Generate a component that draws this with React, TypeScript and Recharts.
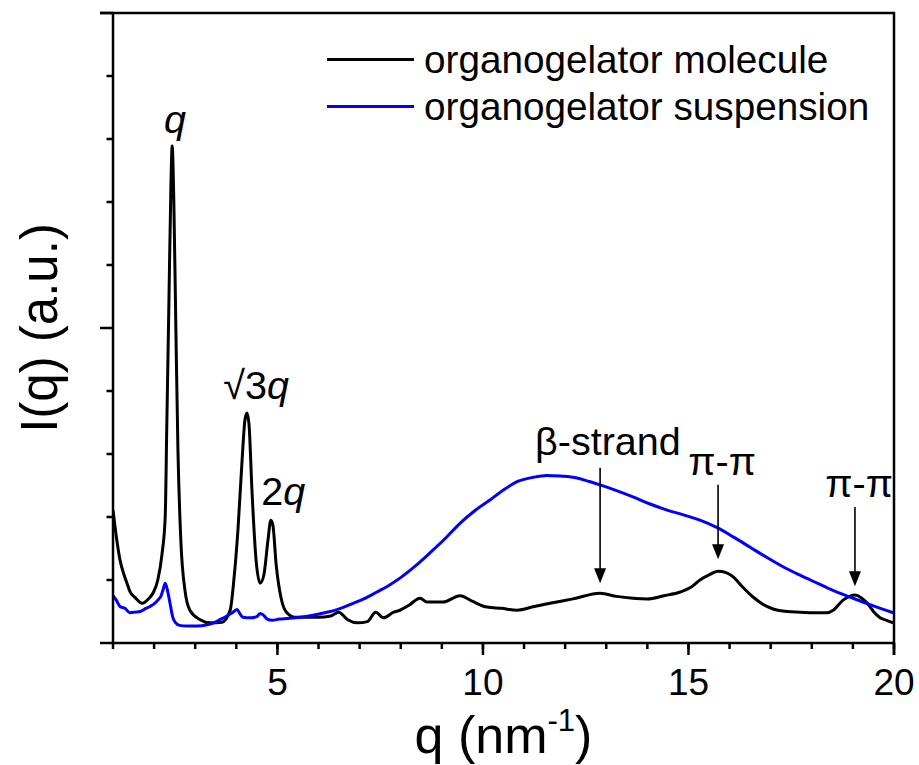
import React from 'react';
import { LineChart, Line, XAxis, YAxis, Legend, ReferenceDot, ReferenceLine, Label, Customized } from 'recharts';

// organogelator molecule (black)
const moleculeQ = [
  1.0, 1.03, 1.1, 1.17, 1.27, 1.34, 1.41, 1.54, 1.71, 1.85, 1.97, 2.09, 2.19, 2.27, 2.31, 2.36,
  2.41, 2.44, 2.48, 2.53, 2.58, 2.65, 2.75, 2.87, 3.12, 3.36, 3.65, 3.85, 3.94, 4.04, 4.14, 4.21,
  4.26, 4.31, 4.38, 4.48, 4.58, 4.67, 4.77, 4.84, 4.89, 4.97, 5.09, 5.23, 5.43, 5.98, 6.3, 6.49,
  6.71, 6.95, 7.19, 7.39, 7.58, 7.83, 7.98, 8.2, 8.47, 8.64, 9.03, 9.44, 9.75, 10.1, 10.45, 10.83,
  11.25, 11.63, 12.19, 12.85, 13.25, 13.65, 14.0, 14.4, 14.8, 15.05, 15.28, 15.5, 15.72, 15.9,
  16.09, 16.3, 16.57, 16.8, 17.06, 17.4, 17.72, 18.05, 18.37, 18.52, 18.76, 18.92, 19.05, 19.2,
  19.35, 19.5, 19.66, 19.82, 19.98,
];
const moleculeI = [
  2.11, 1.95, 1.6, 1.32, 1.08, 0.95, 0.82, 0.72, 0.63, 0.69, 0.79, 1.0, 1.4, 2.0, 3.5, 5.4,
  7.3, 7.89, 7.0, 4.97, 3.06, 1.63, 0.84, 0.52, 0.37, 0.32, 0.33, 0.52, 1.0, 1.8, 2.9, 3.54,
  3.65, 3.46, 2.43, 1.32, 0.95, 1.08, 1.63, 1.95, 1.87, 1.24, 0.71, 0.48, 0.41, 0.41, 0.43, 0.49,
  0.37, 0.32, 0.34, 0.49, 0.4, 0.49, 0.52, 0.6, 0.71, 0.65, 0.65, 0.75, 0.66, 0.57, 0.55, 0.52,
  0.58, 0.63, 0.7, 0.79, 0.74, 0.71, 0.7, 0.75, 0.81, 0.88, 1.0, 1.08, 1.14, 1.12,
  1.05, 0.9, 0.73, 0.62, 0.54, 0.5, 0.49, 0.48, 0.48, 0.52, 0.68, 0.74, 0.76, 0.72,
  0.63, 0.5, 0.4, 0.36, 0.32,
];

// organogelator suspension (blue)
const suspensionQ = [
  1.0, 1.08, 1.17, 1.29, 1.41, 1.55, 1.66, 1.8, 1.9, 2.0, 2.09, 2.17, 2.22, 2.27, 2.33, 2.39,
  2.45, 2.51, 2.62, 2.8, 3.05, 3.29, 3.45, 3.6, 3.75, 3.92, 4.02, 4.1, 4.16, 4.35, 4.5, 4.58,
  4.65, 4.75, 4.87, 5.05, 5.23, 5.55, 5.87, 6.15, 6.45, 6.84, 7.1, 7.42, 7.7, 7.98, 8.35, 8.71,
  9.1, 9.44, 9.8, 10.17, 10.5, 10.83, 11.22, 11.55, 11.88, 12.29, 12.55, 12.85, 13.25, 13.65,
  14.05, 14.48, 14.9, 15.28, 15.7, 16.1, 16.5, 16.9, 17.3, 17.7, 18.13, 18.5, 18.93, 19.45, 19.98,
];
const suspensionI = [
  0.75, 0.68, 0.58, 0.55, 0.48, 0.49, 0.5, 0.55, 0.58, 0.62, 0.68, 0.75, 0.85, 0.95, 0.82, 0.62,
  0.42, 0.33, 0.28, 0.27, 0.27, 0.29, 0.32, 0.37, 0.42, 0.49, 0.53, 0.45, 0.41, 0.4, 0.42, 0.47,
  0.45, 0.38, 0.36, 0.38, 0.39, 0.41, 0.44, 0.48, 0.53, 0.63, 0.7, 0.81, 0.91, 1.03, 1.22, 1.43,
  1.67, 1.9, 2.1, 2.27, 2.43, 2.56, 2.63, 2.66, 2.65, 2.62, 2.57, 2.51, 2.42, 2.32,
  2.21, 2.11, 2.03, 1.95, 1.83, 1.68, 1.52, 1.36, 1.21, 1.08, 0.95, 0.84, 0.73, 0.6, 0.48,
];

const xTicks = [1, 2, 3, 4, 5, 6, 7, 8, 9, 10, 11, 12, 13, 14, 15, 16, 17, 18, 19, 20];
const xLabelled = [5, 10, 15, 20];
const yTicks = [0, 1, 2, 3, 4, 5, 6, 7, 8, 9, 10];
const yMajor = [0, 5, 10];

// peak labels: [q, I, plain text, italic suffix]
const peakLabels: [number, number, string, string][] = [
  [2.51, 8.1, '', 'q'],
  [4.48, 3.88, '√3', 'q'],
  [5.14, 2.19, '2', 'q'],
  [13.04, 2.98, 'β-strand', ''],
  [15.82, 2.67, 'π-π', ''],
  [19.15, 2.32, 'π-π', ''],
];
// arrows: [q, I start, I tip]
const arrows: [number, number, number][] = [
  [12.85, 2.78, 0.95],
  [15.72, 2.51, 1.33],
  [19.05, 2.16, 0.9],
];

const molecule = moleculeQ.map((q, i) => ({ q, I: moleculeI[i] }));
const suspension = suspensionQ.map((q, i) => ({ q, I: suspensionI[i] }));

const FONT = '"Liberation Sans", Arial, sans-serif';
const W = 919;
const H = 765;
const M = { top: 13, right: 25, bottom: 62, left: 53 };
const PLOT_L = M.left + 60;
const PLOT_R = W - M.right;
const PLOT_B = H - M.bottom - 60;

// x ticks: library tick line gives the short mark, custom tick adds label + long mark
const XTick = (props: any) => {
  const { x, y, payload } = props;
  const major = xLabelled.includes(payload.value);
  if (!major) return <g />;
  return (
    <g>
      <line x1={x} x2={x} y1={y - 6} y2={y + 6} stroke="#000" strokeWidth={2.5} />
      <text x={x} y={y + 46} textAnchor="middle" fontSize={37} fontFamily={FONT} fill="#000">
        {payload.value}
      </text>
    </g>
  );
};

const YTick = (props: any) => {
  const { x, y, payload } = props;
  const major = yMajor.includes(payload.value);
  return <line x1={x} x2={x - (major ? 13 : 6.5)} y1={y} y2={y} stroke="#000" strokeWidth={2.5} />;
};

const Arrow = (p: any) => {
  const { x1, y1, x2, y2 } = p;
  return (
    <g>
      <line x1={x1} y1={y1} x2={x2} y2={y2 - 12} stroke="#000" strokeWidth={1.6} />
      <polygon points={`${x2 - 6},${y2 - 15} ${x2 + 6},${y2 - 15} ${x2},${y2}`} fill="#000" />
    </g>
  );
};

// closing frame: top and right edges of the plot box
const Frame = () => (
  <path
    d={`M${PLOT_L - 13},${M.top} H${PLOT_R} V${PLOT_B + 12}`}
    fill="none"
    stroke="#000"
    strokeWidth={2.5}
  />
);

const LegendBox = (props: any) => {
  const items = props.payload || [];
  return (
    <div style={{ fontFamily: FONT, fontSize: 38.7, color: '#000' }}>
      {items.map((it: any) => (
        <div key={it.value} style={{ display: 'flex', alignItems: 'center', height: 47, lineHeight: '47px', whiteSpace: 'nowrap' }}>
          <svg width={97} height={47}>
            <line x1={0} x2={87} y1={23.5} y2={23.5} stroke={it.color} strokeWidth={3.2} />
          </svg>
          <span>{it.value}</span>
        </div>
      ))}
    </div>
  );
};

export default function App() {
  return (
    <div style={{ position: 'absolute', left: 0, top: 0, width: W, height: H, background: '#fff' }}>
      <LineChart width={W} height={H} margin={M}>
        <XAxis
          dataKey="q"
          type="number"
          domain={[1, 20]}
          allowDataOverflow
          ticks={xTicks}
          interval={0}
          height={60}
          tickSize={6}
          tickMargin={0}
          tickLine={{ stroke: '#000', strokeWidth: 2.5 }}
          tick={<XTick />}
          axisLine={{ stroke: '#000', strokeWidth: 2.5 }}
        >
          <Label
            content={(p: any) => {
              const vb = p.viewBox || { x: PLOT_L, y: PLOT_B, width: PLOT_R - PLOT_L };
              return (
                <text x={vb.x + vb.width / 2} y={vb.y + 110} textAnchor="middle" fontSize={52} fontFamily={FONT} fill="#000">
                  q (nm
                  <tspan fontSize={31} dy={-22}>-1</tspan>
                  <tspan dy={22}>)</tspan>
                </text>
              );
            }}
          />
        </XAxis>
        <YAxis
          type="number"
          domain={[0, 10]}
          allowDataOverflow
          ticks={yTicks}
          interval={0}
          width={60}
          tickSize={0}
          tickMargin={0}
          tickLine={false}
          tick={<YTick />}
          axisLine={{ stroke: '#000', strokeWidth: 2.5 }}
        >
          <Label
            content={(p: any) => {
              const vb = p.viewBox || { x: M.left, y: M.top, height: PLOT_B - M.top };
              const cx = 57;
              const cy = vb.y + vb.height / 2;
              return (
                <text x={cx} y={cy} transform={`rotate(-90 ${cx} ${cy})`} textAnchor="middle" fontSize={51} fontFamily={FONT} fill="#000">
                  I(q) (a.u.)
                </text>
              );
            }}
          />
        </YAxis>
        <Legend layout="vertical" align="center" verticalAlign="middle" wrapperStyle={{ top: 36, left: 327, width: 'auto' }} content={<LegendBox />} />
        <Line data={molecule} dataKey="I" name="organogelator molecule" type="monotone" stroke="#000" strokeWidth={3} dot={false} isAnimationActive={false} />
        <Line data={suspension} dataKey="I" name="organogelator suspension" type="monotone" stroke="#0000ff" strokeWidth={3} dot={false} isAnimationActive={false} />
        {arrows.map(([q, a, b], i) => (
          <ReferenceLine key={'a' + i} segment={[{ x: q, y: a }, { x: q, y: b }]} shape={<Arrow />} ifOverflow="visible" />
        ))}
        {peakLabels.map(([q, v, plain, ital], i) => (
          <ReferenceDot
            key={'l' + i}
            x={q}
            y={v}
            r={0}
            ifOverflow="visible"
            shape={(p: any) => (
              <text x={p.cx} y={p.cy} textAnchor="middle" fontSize={39.5} fontFamily={FONT} fill="#000">
                {plain}
                {ital && <tspan fontStyle="italic">{ital}</tspan>}
              </text>
            )}
          />
        ))}
        <Customized component={<Frame />} />
      </LineChart>
    </div>
  );
}
